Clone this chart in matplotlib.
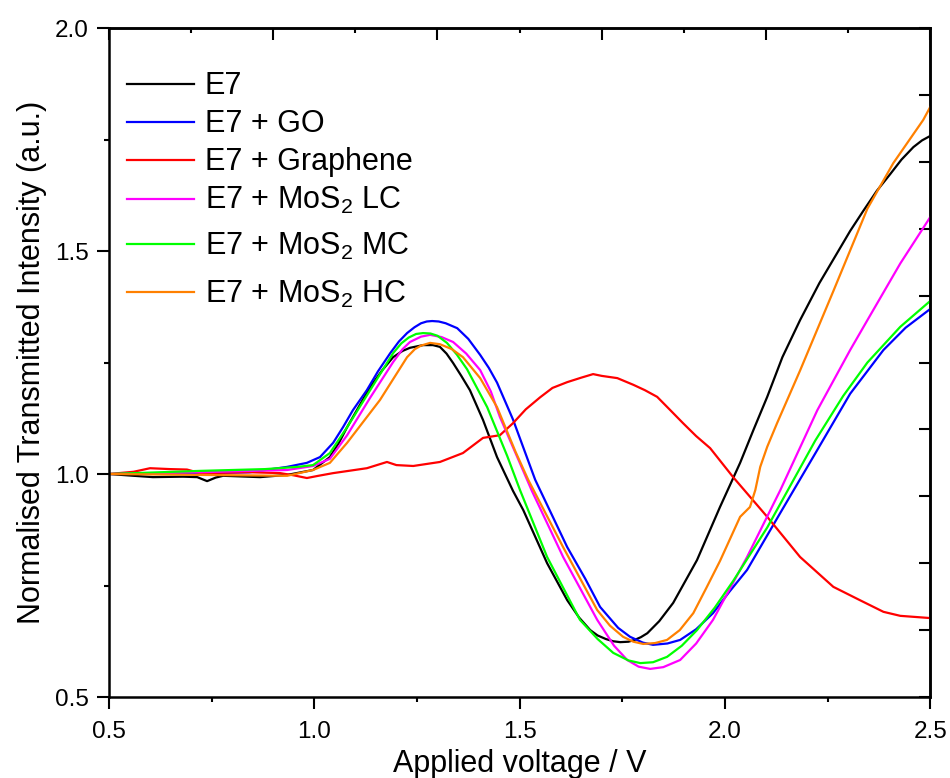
import numpy as np
import matplotlib
matplotlib.use('Agg')
import matplotlib.pyplot as plt
from matplotlib.ticker import MultipleLocator, NullFormatter

plt.rcParams['font.family'] = ['Liberation Sans', 'DejaVu Sans']
plt.rcParams['mathtext.fontset'] = 'custom'
plt.rcParams['mathtext.rm'] = 'Liberation Sans'
plt.rcParams['mathtext.it'] = 'Liberation Sans:italic'

# applied voltage (V) and normalised transmitted intensity (a.u.)
e7_v = [0.500, 0.560, 0.607, 0.680, 0.715, 0.739, 0.760, 0.778, 0.868, 0.934, 0.997, 1.038, 1.060, 1.080, 1.108,
        1.136, 1.165, 1.192, 1.215, 1.233, 1.265, 1.289, 1.306, 1.322, 1.338, 1.358, 1.379, 1.411, 1.445, 1.484,
        1.509, 1.567, 1.616, 1.645, 1.672, 1.690, 1.710, 1.728, 1.745, 1.765, 1.780, 1.795, 1.811, 1.840, 1.874,
        1.932, 1.988, 2.037, 2.070, 2.103, 2.140, 2.183, 2.230, 2.273, 2.305, 2.337, 2.370, 2.403, 2.430, 2.459,
        2.480, 2.500]
e7_i = [1.000, 0.996, 0.993, 0.994, 0.993, 0.984, 0.992, 0.996, 0.993, 0.998, 1.009, 1.038, 1.070, 1.105, 1.150,
        1.195, 1.232, 1.262, 1.276, 1.283, 1.289, 1.289, 1.285, 1.270, 1.249, 1.220, 1.188, 1.121, 1.038, 0.962,
        0.919, 0.800, 0.717, 0.678, 0.650, 0.638, 0.630, 0.625, 0.623, 0.624, 0.628, 0.634, 0.643, 0.670, 0.711,
        0.807, 0.926, 1.025, 1.100, 1.173, 1.262, 1.345, 1.428, 1.495, 1.545, 1.590, 1.635, 1.673, 1.705, 1.733,
        1.748, 1.758]

go_v = [0.500, 0.722, 0.843, 0.934, 0.982, 1.014, 1.046, 1.070, 1.094, 1.128, 1.155, 1.185, 1.206, 1.226, 1.244,
        1.260, 1.274, 1.287, 1.303, 1.320, 1.348, 1.375, 1.404, 1.425, 1.445, 1.484, 1.538, 1.616, 1.660, 1.696,
        1.740, 1.769, 1.800, 1.825, 1.860, 1.891, 1.930, 1.971, 2.010, 2.054, 2.135, 2.225, 2.305, 2.386, 2.440,
        2.500]
go_i = [1.000, 1.002, 1.004, 1.016, 1.025, 1.038, 1.070, 1.105, 1.143, 1.188, 1.230, 1.271, 1.297, 1.316, 1.329,
        1.338, 1.342, 1.343, 1.342, 1.338, 1.327, 1.303, 1.267, 1.238, 1.205, 1.122, 0.987, 0.836, 0.765, 0.702,
        0.655, 0.635, 0.622, 0.617, 0.620, 0.628, 0.652, 0.688, 0.735, 0.785, 0.913, 1.054, 1.180, 1.278, 1.328,
        1.370]

gr_v = [0.500, 0.560, 0.600, 0.649, 0.690, 0.722, 0.790, 0.843, 0.917, 0.950, 0.982, 1.010, 1.046, 1.128, 1.177,
        1.200, 1.241, 1.306, 1.362, 1.411, 1.452, 1.484, 1.515, 1.550, 1.580, 1.616, 1.650, 1.679, 1.700, 1.738,
        1.777, 1.805, 1.835, 1.865, 1.898, 1.930, 1.964, 2.020, 2.103, 2.183, 2.264, 2.329, 2.386, 2.427, 2.500]
gr_i = [1.000, 1.005, 1.013, 1.011, 1.010, 1.002, 1.003, 1.004, 1.002, 0.997, 0.991, 0.996, 1.002, 1.013, 1.027,
        1.020, 1.018, 1.027, 1.047, 1.081, 1.087, 1.114, 1.145, 1.172, 1.193, 1.206, 1.216, 1.224, 1.220, 1.215,
        1.200, 1.188, 1.173, 1.145, 1.114, 1.085, 1.058, 0.993, 0.904, 0.814, 0.747, 0.717, 0.691, 0.682, 0.677]

lc_v = [0.500, 0.722, 0.934, 0.997, 1.038, 1.080, 1.136, 1.192, 1.215, 1.233, 1.260, 1.282, 1.310, 1.338, 1.370,
        1.404, 1.430, 1.452, 1.530, 1.606, 1.689, 1.730, 1.762, 1.790, 1.818, 1.850, 1.891, 1.930, 1.971, 2.054,
        2.135, 2.225, 2.305, 2.347, 2.427, 2.500]
lc_i = [1.000, 1.004, 1.009, 1.018, 1.034, 1.087, 1.171, 1.251, 1.280, 1.296, 1.308, 1.312, 1.307, 1.296, 1.270,
        1.233, 1.185, 1.128, 0.962, 0.814, 0.673, 0.615, 0.583, 0.568, 0.563, 0.567, 0.583, 0.620, 0.673, 0.814,
        0.964, 1.143, 1.278, 1.345, 1.472, 1.576]

mc_v = [0.500, 0.722, 0.880, 0.960, 0.997, 1.038, 1.080, 1.136, 1.192, 1.212, 1.230, 1.248, 1.265, 1.283, 1.300,
        1.323, 1.347, 1.372, 1.421, 1.470, 1.501, 1.567, 1.647, 1.690, 1.728, 1.765, 1.794, 1.825, 1.859, 1.895,
        1.932, 1.975, 2.020, 2.103, 2.220, 2.288, 2.347, 2.427, 2.500]
mc_i = [1.000, 1.007, 1.011, 1.016, 1.020, 1.047, 1.105, 1.188, 1.271, 1.293, 1.306, 1.314, 1.316, 1.315, 1.310,
        1.294, 1.268, 1.235, 1.150, 1.040, 0.964, 0.814, 0.673, 0.630, 0.599, 0.582, 0.576, 0.578, 0.590, 0.615,
        0.650, 0.700, 0.760, 0.880, 1.075, 1.175, 1.250, 1.330, 1.388]

hc_v = [0.500, 0.722, 0.934, 0.997, 1.038, 1.080, 1.160, 1.226, 1.245, 1.260, 1.282, 1.306, 1.335, 1.362, 1.404,
        1.445, 1.490, 1.521, 1.606, 1.689, 1.720, 1.752, 1.777, 1.801, 1.830, 1.859, 1.890, 1.923, 1.955, 1.988,
        2.037, 2.061, 2.074, 2.086, 2.103, 2.127, 2.183, 2.264, 2.347, 2.410, 2.483, 2.500]
hc_i = [1.000, 0.998, 0.996, 1.009, 1.025, 1.070, 1.166, 1.262, 1.280, 1.288, 1.294, 1.291, 1.280, 1.262, 1.215,
        1.150, 1.050, 0.987, 0.836, 0.695, 0.660, 0.635, 0.624, 0.619, 0.621, 0.628, 0.650, 0.688, 0.745, 0.805,
        0.904, 0.926, 0.964, 1.016, 1.061, 1.114, 1.232, 1.410, 1.595, 1.697, 1.794, 1.823]

labels = ['E7', 'E7 + GO', 'E7 + Graphene', 'E7 + MoS$_2$ LC', 'E7 + MoS$_2$ MC', 'E7 + MoS$_2$ HC']
colours = ['#000000', '#0000FF', '#FF0000', '#FF00FF', '#00FF00', '#FF8000']

fig = plt.figure(figsize=(9.5, 7.78), dpi=100)
ax = fig.add_axes([0.1147, 0.1041, 0.8645, 0.8599])

curves = [(e7_v, e7_i), (go_v, go_i), (gr_v, gr_i), (lc_v, lc_i), (mc_v, mc_i), (hc_v, hc_i)]
lines = []
for (v, i), c in zip(curves, colours):
    ln, = ax.plot(v, i, color=c, lw=1.6)
    lines.append(ln)

ax.set_xlim(0.5, 2.5)
ax.set_ylim(0.5, 2.0)
ax.xaxis.set_major_locator(MultipleLocator(0.5))
ax.xaxis.set_minor_locator(MultipleLocator(0.25))
ax.yaxis.set_major_locator(MultipleLocator(0.5))
ax.yaxis.set_minor_locator(MultipleLocator(0.25))
ax.tick_params(which='major', direction='out', length=8.5, width=1.5, labelsize=17.5, top=False, right=False)
ax.tick_params(which='minor', direction='out', length=3.6, width=1.5, top=False, right=False)
ax.tick_params(axis='x', which='major', pad=9)
ax.tick_params(axis='y', which='major', pad=6)
for sp in ax.spines.values():
    sp.set_linewidth(1.8)

# top and right axes carry only inward ticks
top = ax.secondary_xaxis('top')
top.xaxis.set_major_locator(MultipleLocator(0.4, offset=0.1))
top.xaxis.set_minor_locator(MultipleLocator(0.4, offset=0.3))
top.xaxis.set_major_formatter(NullFormatter())
top.tick_params(which='major', direction='in', length=8.5, width=1.5)
top.tick_params(which='minor', direction='in', length=3.6, width=1.5)
top.spines['top'].set_linewidth(1.8)

right = ax.secondary_yaxis('right')
right.yaxis.set_major_locator(MultipleLocator(0.15, offset=0.05))
right.yaxis.set_major_formatter(NullFormatter())
right.tick_params(which='major', direction='in', length=8, width=1.5)
right.spines['right'].set_linewidth(1.8)

ax.set_xlabel('Applied voltage / V', fontsize=22, labelpad=4)
ax.set_ylabel('Normalised Transmitted Intensity (a.u.)', fontsize=22, labelpad=6)

# legend in two blocks so the subscripted rows get the wider spacing
leg_kw = dict(loc='upper left', frameon=False, fontsize=22, handlelength=2.19, handletextpad=0.36,
              borderpad=0, borderaxespad=0)
leg1 = ax.legend(lines[:4], labels[:4], bbox_to_anchor=(0.0219, 0.935), labelspacing=0.26, **leg_kw)
ax.add_artist(leg1)
ax.legend(lines[4:], labels[4:], bbox_to_anchor=(0.0219, 0.697), labelspacing=0.55, **leg_kw)

fig.savefig('out.png', dpi=100)
